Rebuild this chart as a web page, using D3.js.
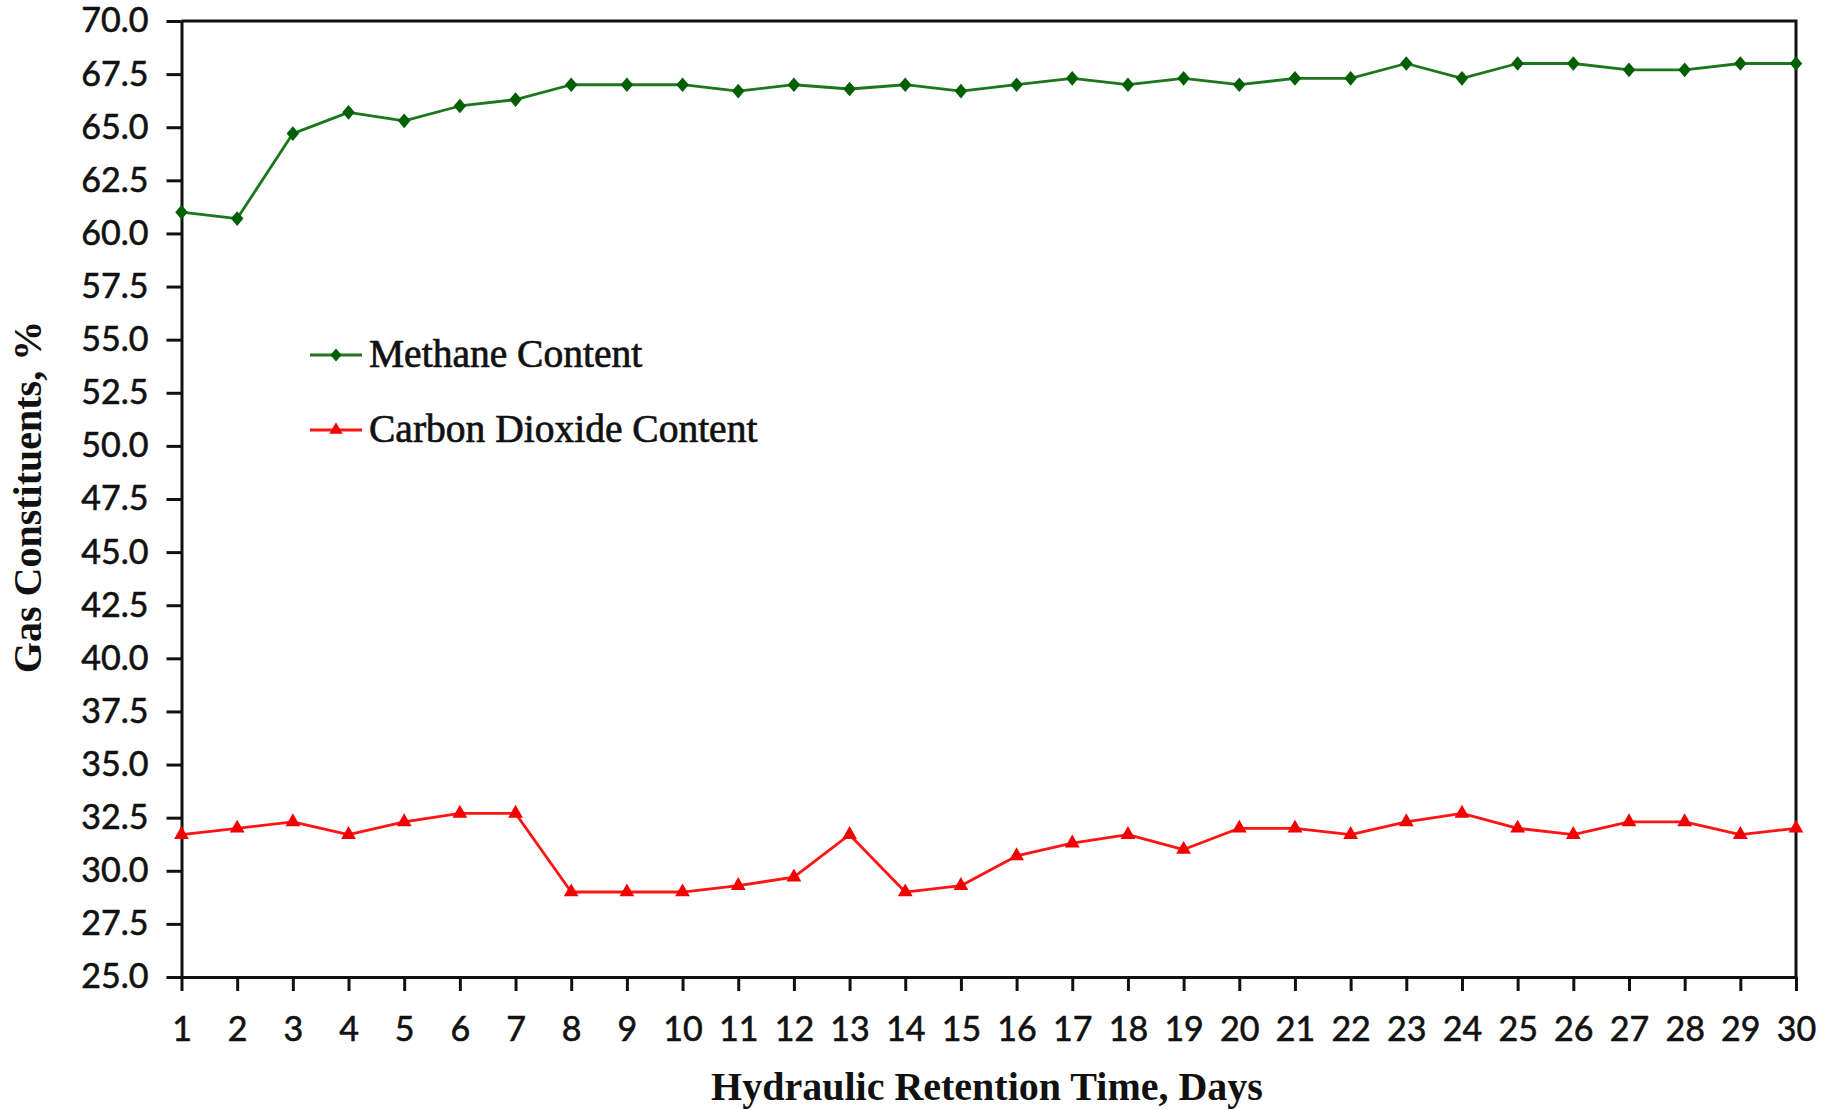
<!DOCTYPE html>
<html>
<head>
<meta charset="utf-8">
<script src="https://cdn.jsdelivr.net/npm/d3@7"></script>
<style>
  html, body { margin: 0; padding: 0; background: #fff; }
  svg { display: block; }
</style>
</head>
<body>
<svg id="chart" width="1829" height="1110"></svg>
<script>
// Hydraulic retention time (days)
const days = [1, 2, 3, 4, 5, 6, 7, 8, 9, 10, 11, 12, 13, 14, 15,
              16, 17, 18, 19, 20, 21, 22, 23, 24, 25, 26, 27, 28, 29, 30];

// Methane content, %
const methane = [61.0, 60.7, 64.7, 65.7, 65.3, 66.0, 66.3, 67.0, 67.0, 67.0,
                 66.7, 67.0, 66.8, 67.0, 66.7, 67.0, 67.3, 67.0, 67.3, 67.0,
                 67.3, 67.3, 68.0, 67.3, 68.0, 68.0, 67.7, 67.7, 68.0, 68.0];

// Carbon dioxide content, %
const carbonDioxide = [31.7, 32.0, 32.3, 31.7, 32.3, 32.7, 32.7, 29.0, 29.0, 29.0,
                       29.3, 29.7, 31.7, 29.0, 29.3, 30.7, 31.3, 31.7, 31.0, 32.0,
                       32.0, 31.7, 32.3, 32.7, 32.0, 31.7, 32.3, 32.3, 31.7, 32.0];

// Value axis ticks
const yTicks = [25.0, 27.5, 30.0, 32.5, 35.0, 37.5, 40.0, 42.5, 45.0, 47.5,
                50.0, 52.5, 55.0, 57.5, 60.0, 62.5, 65.0, 67.5, 70.0];

const seriesNames = ["Methane Content", "Carbon Dioxide Content"];

const svg = d3.select("#chart");
const plot = { left: 181.5, right: 1796, top: 21, bottom: 977 };

const x = d3.scaleLinear().domain([days[0], days[days.length - 1]]).range([plot.left, plot.right]);
const y = d3.scaleLinear().domain([yTicks[0], yTicks[yTicks.length - 1]]).range([plot.bottom, plot.top]);

const tickFont = "Lato, 'Open Sans', sans-serif";
const titleFont = "'Liberation Serif', 'Times New Roman', serif";

// Diamond marker slightly wider than d3's default
const diamond = {
  draw(ctx, size) {
    const h = Math.sqrt(size) * 0.6, w = h * 0.85;
    ctx.moveTo(0, -h); ctx.lineTo(w, 0); ctx.lineTo(0, h); ctx.lineTo(-w, 0); ctx.closePath();
  }
};

const series = [
  { name: seriesNames[0], values: methane, line: "#1c771c", fill: "#005f00", symbol: diamond, size: 150 },
  { name: seriesNames[1], values: carbonDioxide, line: "#ff1414", fill: "#f20000", symbol: d3.symbolTriangle, size: 95 }
];

// Axes
const yAxis = d3.axisLeft(y).tickValues(yTicks).tickFormat(d3.format(".1f"))
  .tickSize(15).tickSizeOuter(0).tickPadding(18);
const xAxis = d3.axisBottom(x).tickValues(days).tickFormat(d3.format("d"))
  .tickSize(14).tickSizeOuter(0).tickPadding(26);

const gy = svg.append("g").attr("transform", `translate(${plot.left},0)`).call(yAxis);
const gx = svg.append("g").attr("transform", `translate(0,${plot.bottom})`).call(xAxis);

[gx, gy].forEach(g => {
  g.selectAll("path.domain").attr("stroke", "#111").attr("stroke-width", 3);
  g.selectAll(".tick line").attr("stroke", "#111").attr("stroke-width", 3);
  g.selectAll(".tick text").attr("fill", "#111")
    .attr("stroke", "#111").attr("stroke-width", 0.6)
    .style("font-family", tickFont).style("font-size", "34px");
});

// Plot-area frame: top and right edges
svg.append("path")
  .attr("d", `M${x(days[0])},${y(yTicks[yTicks.length - 1])}H${x(days[days.length - 1])}V${y(yTicks[0])}`)
  .attr("fill", "none").attr("stroke", "#111").attr("stroke-width", 3);

// Series lines and markers
const line = d3.line().x((d, i) => x(days[i])).y(d => y(d));

series.forEach(s => {
  svg.append("path").datum(s.values)
    .attr("d", line)
    .attr("fill", "none").attr("stroke", s.line).attr("stroke-width", 2.8)
    .attr("stroke-linejoin", "round");
  svg.append("g").selectAll("path").data(s.values).join("path")
    .attr("transform", (d, i) => `translate(${x(days[i])},${y(d)})`)
    .attr("d", d3.symbol(s.symbol, s.size))
    .attr("fill", s.fill);
});

// Legend
const legend = svg.append("g");
series.forEach((s, i) => {
  const ly = 355 + i * 75;
  legend.append("line")
    .attr("x1", 310).attr("x2", 362).attr("y1", ly).attr("y2", ly)
    .attr("stroke", s.line).attr("stroke-width", 2.8);
  legend.append("path")
    .attr("transform", `translate(336,${ly})`)
    .attr("d", d3.symbol(s.symbol, s.size * 0.8))
    .attr("fill", s.fill);
  legend.append("text")
    .attr("x", 369).attr("y", ly + 12)
    .attr("fill", "#111").attr("stroke", "#111").attr("stroke-width", 0.7)
    .style("font-family", titleFont).style("font-size", "39.5px")
    .text(s.name);
});

// Axis titles
svg.append("text")
  .attr("x", 987).attr("y", 1100)
  .attr("text-anchor", "middle")
  .style("font-family", titleFont).style("font-size", "40px").style("font-weight", "bold")
  .attr("fill", "#111")
  .text("Hydraulic Retention Time, Days");

svg.append("text")
  .attr("transform", "translate(41,497) rotate(-90)")
  .attr("text-anchor", "middle")
  .style("font-family", titleFont).style("font-size", "40px").style("font-weight", "bold")
  .attr("fill", "#111")
  .text("Gas Constituents, %");
</script>
</body>
</html>
